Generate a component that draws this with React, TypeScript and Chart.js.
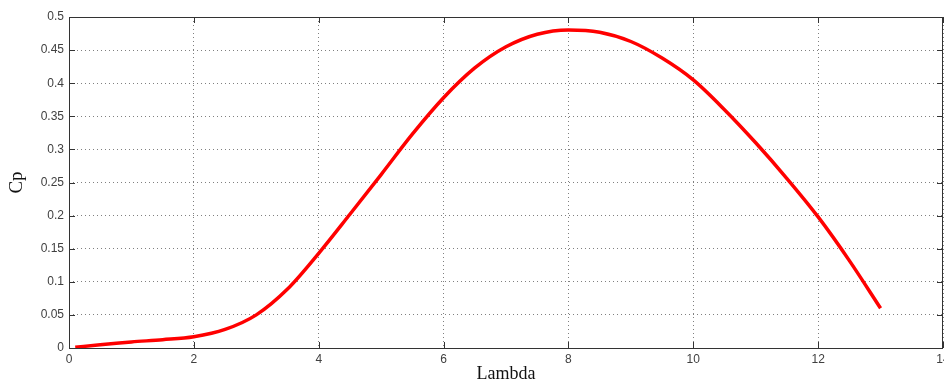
import React, { useEffect, useRef } from "react";
import { Chart, registerables } from "chart.js";

Chart.register(...registerables);

// Tip speed ratio (lambda) and power coefficient Cp
const lambda = [0.1, 0.5, 1.0, 1.5, 2.0, 2.5, 3.0, 3.5, 4.0, 4.5, 5.0, 5.5, 6.0, 6.5, 7.0, 7.5, 8.0, 8.5, 9.0, 9.5, 10.0, 10.5, 11.0, 11.5, 12.0, 12.5, 13.0];
const cp = [0.001, 0.005, 0.0092, 0.0125, 0.017, 0.028, 0.05, 0.089, 0.143, 0.202, 0.262, 0.323, 0.378, 0.423, 0.455, 0.474, 0.4805, 0.477, 0.463, 0.438, 0.405, 0.36, 0.31, 0.256, 0.198, 0.132, 0.06];

const xTicks = [0, 2, 4, 6, 8, 10, 12, 14];
const yTicks = [0, 0.05, 0.1, 0.15, 0.2, 0.25, 0.3, 0.35, 0.4, 0.45, 0.5];

const W = 944;
const H = 383;

// Axes box with inward-pointing tick marks on all four sides
const framePlugin = {
  id: "frame",
  afterDraw(chart: any) {
    const { ctx, chartArea: a, scales } = chart;
    ctx.save();
    ctx.strokeStyle = "#333333";
    ctx.lineWidth = 1;
    ctx.beginPath();
    ctx.rect(Math.round(a.left) + 0.5, Math.round(a.top) + 0.5, Math.round(a.right - a.left) - 1, Math.round(a.bottom - a.top));
    ctx.stroke();
    const len = 6;
    ctx.beginPath();
    for (const v of xTicks) {
      const px = Math.round(scales.x.getPixelForValue(v)) + 0.5;
      ctx.moveTo(px, a.bottom);
      ctx.lineTo(px, a.bottom - len);
      ctx.moveTo(px, a.top);
      ctx.lineTo(px, a.top + len);
    }
    for (const v of yTicks) {
      const py = Math.round(scales.y.getPixelForValue(v)) + 0.5;
      ctx.moveTo(a.left, py);
      ctx.lineTo(a.left + len, py);
      ctx.moveTo(a.right, py);
      ctx.lineTo(a.right - len, py);
    }
    ctx.stroke();
    ctx.restore();
  },
};

export default function App() {
  const ref = useRef<HTMLCanvasElement | null>(null);

  useEffect(() => {
    if (!ref.current) return;
    const tickFont = { family: "'Liberation Sans', Arial, sans-serif", size: 12 };
    const chart = new Chart(ref.current, {
      type: "line",
      data: {
        datasets: [
          {
            data: lambda.map((x, i) => ({ x, y: cp[i] })),
            borderColor: "#ff0000",
            borderWidth: 3.5,
            pointRadius: 0,
            cubicInterpolationMode: "monotone",
            fill: false,
          },
        ],
      },
      options: {
        responsive: false,
        animation: false,
        events: [],
        layout: { padding: { left: 0, right: 1, top: 17, bottom: 0 } },
        plugins: { legend: { display: false }, tooltip: { enabled: false } },
        scales: {
          x: {
            type: "linear",
            min: 0,
            max: 14,
            afterBuildTicks: (s: any) => {
              s.ticks = xTicks.map((value) => ({ value }));
            },
            afterFit: (s: any) => {
              s.height = 35;
              s.paddingLeft = 0;
              s.paddingRight = 0;
            },
            grid: { color: "#808080", lineWidth: 1, drawTicks: false },
            border: { display: false, dash: [1, 3] },
            ticks: {
              color: "#404040",
              font: tickFont,
              padding: 4,
              maxRotation: 0,
              autoSkip: false,
              callback: (v: any) => String(v),
            },
            title: {
              display: true,
              text: "Lambda",
              color: "#111111",
              font: { family: "'Liberation Serif', 'Times New Roman', serif", size: 18, lineHeight: 1 },
              padding: { top: 0, bottom: 0 },
            },
          },
          y: {
            type: "linear",
            min: 0,
            max: 0.5,
            afterBuildTicks: (s: any) => {
              s.ticks = yTicks.map((value) => ({ value }));
            },
            afterFit: (s: any) => {
              s.width = 69;
              s.paddingTop = 0;
              s.paddingBottom = 0;
            },
            grid: { color: "#808080", lineWidth: 1, drawTicks: false },
            border: { display: false, dash: [1, 3] },
            ticks: {
              color: "#404040",
              font: tickFont,
              padding: 5,
              autoSkip: false,
              callback: (v: any) => String(Number(v.toFixed(2))),
            },
            title: {
              display: true,
              text: "Cp",
              color: "#111111",
              font: { family: "'Liberation Serif', 'Times New Roman', serif", size: 19 },
              padding: { top: 6, bottom: 0 },
            },
          },
        },
      },
      plugins: [framePlugin],
    });
    return () => chart.destroy();
  }, []);

  return (
    <div style={{ position: "fixed", left: 0, top: 0, width: W, height: H, background: "#ffffff" }}>
      <canvas ref={ref} width={W} height={H} style={{ display: "block", width: W, height: H }} />
    </div>
  );
}
